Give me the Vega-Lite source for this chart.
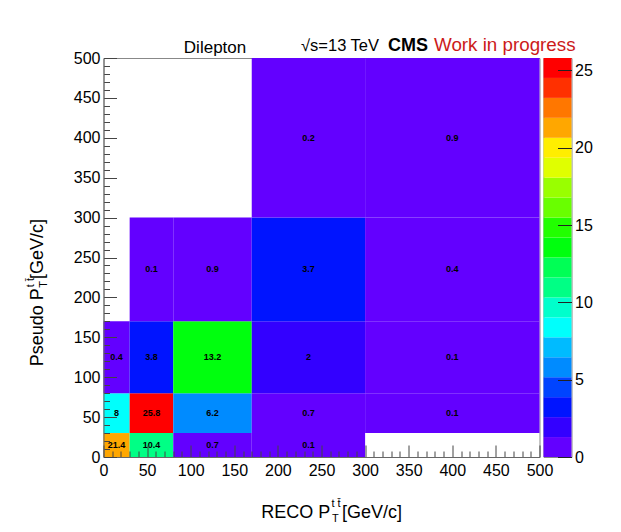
{
  "$schema": "https://vega.github.io/schema/vega-lite/v6.json",
  "background": "white",
  "padding": {"left": 24.5, "top": 35, "right": 5, "bottom": 5},
  "bounds": "flush",
  "spacing": 4,
  "config": {
    "font": "Liberation Sans",
    "view": {"stroke": "#888", "strokeWidth": 1},
    "axis": {
      "grid": false,
      "labelFont": "Liberation Sans",
      "labelFontSize": 16,
      "labelColor": "#000",
      "domainColor": "#666",
      "tickColor": "#444",
      "tickWidth": 1
    }
  },
  "hconcat": [
    {
      "width": 436,
      "height": 399,
      "data": {
        "values": [
          {"x0": 0, "x1": 30, "y0": 0, "y1": 30, "value": 21.4},
          {"x0": 30, "x1": 80, "y0": 0, "y1": 30, "value": 10.4},
          {"x0": 80, "x1": 170, "y0": 0, "y1": 30, "value": 0.7},
          {"x0": 170, "x1": 300, "y0": 0, "y1": 30, "value": 0.1},
          {"x0": 0, "x1": 30, "y0": 30, "y1": 80, "value": 8},
          {"x0": 30, "x1": 80, "y0": 30, "y1": 80, "value": 25.8},
          {"x0": 80, "x1": 170, "y0": 30, "y1": 80, "value": 6.2},
          {"x0": 170, "x1": 300, "y0": 30, "y1": 80, "value": 0.7},
          {"x0": 300, "x1": 500, "y0": 30, "y1": 80, "value": 0.1},
          {"x0": 0, "x1": 30, "y0": 80, "y1": 170, "value": 0.4},
          {"x0": 30, "x1": 80, "y0": 80, "y1": 170, "value": 3.8},
          {"x0": 80, "x1": 170, "y0": 80, "y1": 170, "value": 13.2},
          {"x0": 170, "x1": 300, "y0": 80, "y1": 170, "value": 2},
          {"x0": 300, "x1": 500, "y0": 80, "y1": 170, "value": 0.1},
          {"x0": 30, "x1": 80, "y0": 170, "y1": 300, "value": 0.1},
          {"x0": 80, "x1": 170, "y0": 170, "y1": 300, "value": 0.9},
          {"x0": 170, "x1": 300, "y0": 170, "y1": 300, "value": 3.7},
          {"x0": 300, "x1": 500, "y0": 170, "y1": 300, "value": 0.4},
          {"x0": 170, "x1": 300, "y0": 300, "y1": 500, "value": 0.2},
          {"x0": 300, "x1": 500, "y0": 300, "y1": 500, "value": 0.9}
        ]
      },
      "resolve": {"axis": {"x": "independent", "y": "independent"}},
      "layer": [
        {
          "mark": {"type": "rect"},
          "encoding": {
            "x": {
              "field": "x0", "type": "quantitative",
              "scale": {"domain": [0, 500], "nice": false, "zero": false},
              "axis": {
                "title": null,
                "zindex": 2,
                "values": [0,10,20,30,40,50,60,70,80,90,100,110,120,130,140,150,160,170,180,190,200,210,220,230,240,250,260,270,280,290,300,310,320,330,340,350,360,370,380,390,400,410,420,430,440,450,460,470,480,490,500],
                "tickSize": {"condition": {"test": "datum.value % 50 === 0", "value": -12}, "value": -6},
                "labelPadding": 17,
                "labelExpr": "datum.value % 50 === 0 ? datum.label : ''",
                "labelOverlap": false,
                "labelFlush": false
              }
            },
            "x2": {"field": "x1"},
            "y": {
              "field": "y0", "type": "quantitative",
              "scale": {"domain": [0, 500], "nice": false, "zero": false},
              "axis": {
                "title": null,
                "zindex": 2,
                "values": [0,10,20,30,40,50,60,70,80,90,100,110,120,130,140,150,160,170,180,190,200,210,220,230,240,250,260,270,280,290,300,310,320,330,340,350,360,370,380,390,400,410,420,430,440,450,460,470,480,490,500],
                "tickSize": {"condition": {"test": "datum.value % 50 === 0", "value": -13}, "value": -6},
                "labelPadding": 16.5,
                "labelExpr": "datum.value % 50 === 0 ? datum.label : ''",
                "labelOverlap": false
              }
            },
            "y2": {"field": "y1"},
            "color": {
              "field": "value", "type": "quantitative",
              "scale": {
                "type": "threshold",
                "domain": [1.29, 2.58, 3.87, 5.16, 6.45, 7.74, 9.03, 10.32, 11.61, 12.9, 14.19, 15.48, 16.77, 18.06, 19.35, 20.64, 21.93, 23.22, 24.51],
                "range": ["#6300ff", "#3300ff", "#0014ff", "#0044ff", "#008bff", "#00bbff", "#00fffc", "#00ffcc", "#00ff85", "#00ff55", "#00ff0e", "#22ff00", "#69ff00", "#99ff00", "#e0ff00", "#ffee00", "#ffa700", "#ff7700", "#ff3000", "#ff0000"]
              },
              "legend": null
            }
          }
        },
        {
          "transform": [
            {"calculate": "(datum.x0 + datum.x1) / 2", "as": "xm"},
            {"calculate": "(datum.y0 + datum.y1) / 2", "as": "ym"}
          ],
          "mark": {"type": "text", "font": "Liberation Sans", "fontSize": 9, "fontWeight": "bold", "color": "#000", "clip": false},
          "encoding": {
            "x": {"field": "xm", "type": "quantitative", "axis": null},
            "y": {"field": "ym", "type": "quantitative", "axis": null},
            "text": {"field": "value", "type": "quantitative"}
          }
        },
        {
          "data": {"values": [{}]},
          "mark": {"type": "text", "text": "Dilepton", "fontSize": 17, "align": "center", "baseline": "alphabetic", "color": "#000", "clip": false},
          "encoding": {
            "x": {"datum": 127.9, "type": "quantitative", "axis": null},
            "y": {"datum": 506.6, "type": "quantitative", "axis": null}
          }
        },
        {
          "data": {"values": [{}]},
          "mark": {"type": "text", "text": "√s=13 TeV", "fontSize": 16.5, "align": "left", "baseline": "alphabetic", "color": "#000", "clip": false},
          "encoding": {
            "x": {"datum": 226.5, "type": "quantitative", "axis": null},
            "y": {"datum": 509.1, "type": "quantitative", "axis": null}
          }
        },
        {
          "data": {"values": [{}]},
          "mark": {"type": "text", "text": "CMS", "fontSize": 18, "fontWeight": "bold", "align": "left", "baseline": "alphabetic", "color": "#000", "clip": false},
          "encoding": {
            "x": {"datum": 326.3, "type": "quantitative", "axis": null},
            "y": {"datum": 509.1, "type": "quantitative", "axis": null}
          }
        },
        {
          "data": {"values": [{}]},
          "mark": {"type": "text", "text": "Work in progress", "fontSize": 18.8, "align": "left", "baseline": "alphabetic", "color": "#cc1a1a", "clip": false},
          "encoding": {
            "x": {"datum": 379.0, "type": "quantitative", "axis": null},
            "y": {"datum": 509.1, "type": "quantitative", "axis": null}
          }
        },
        {
          "data": {"values": [{}]},
          "mark": {"type": "text", "text": "RECO P", "fontSize": 18, "align": "right", "baseline": "alphabetic", "color": "#000", "clip": false},
          "encoding": {
            "x": {"datum": 260.1, "type": "quantitative", "axis": null},
            "y": {"datum": -76.7, "type": "quantitative", "axis": null}
          }
        },
        {
          "data": {"values": [{}]},
          "mark": {"type": "text", "text": "t t\u0304", "fontSize": 11, "align": "left", "baseline": "alphabetic", "color": "#000", "clip": false},
          "encoding": {
            "x": {"datum": 261.4, "type": "quantitative", "axis": null},
            "y": {"datum": -62.7, "type": "quantitative", "axis": null}
          }
        },
        {
          "data": {"values": [{}]},
          "mark": {"type": "text", "text": "T", "fontSize": 11, "align": "left", "baseline": "alphabetic", "color": "#000", "clip": false},
          "encoding": {
            "x": {"datum": 261.9, "type": "quantitative", "axis": null},
            "y": {"datum": -81.2, "type": "quantitative", "axis": null}
          }
        },
        {
          "data": {"values": [{}]},
          "mark": {"type": "text", "text": " [GeV/c]", "fontSize": 18, "align": "left", "baseline": "alphabetic", "color": "#000", "clip": false},
          "encoding": {
            "x": {"datum": 273.5, "type": "quantitative", "axis": null},
            "y": {"datum": -76.7, "type": "quantitative", "axis": null}
          }
        },
        {
          "data": {"values": [{}]},
          "mark": {"type": "text", "text": "Pseudo P", "angle": 270, "fontSize": 18, "align": "right", "baseline": "alphabetic", "color": "#000", "clip": false},
          "encoding": {
            "x": {"datum": -69.4, "type": "quantitative", "axis": null},
            "y": {"datum": 211.5, "type": "quantitative", "axis": null}
          }
        },
        {
          "data": {"values": [{}]},
          "mark": {"type": "text", "text": "t t\u0304", "angle": 270, "fontSize": 11, "align": "left", "baseline": "alphabetic", "color": "#000", "clip": false},
          "encoding": {
            "x": {"datum": -79.7, "type": "quantitative", "axis": null},
            "y": {"datum": 212.8, "type": "quantitative", "axis": null}
          }
        },
        {
          "data": {"values": [{}]},
          "mark": {"type": "text", "text": "T", "angle": 270, "fontSize": 11, "align": "left", "baseline": "alphabetic", "color": "#000", "clip": false},
          "encoding": {
            "x": {"datum": -64.8, "type": "quantitative", "axis": null},
            "y": {"datum": 212.2, "type": "quantitative", "axis": null}
          }
        },
        {
          "data": {"values": [{}]},
          "mark": {"type": "text", "text": " [GeV/c]", "angle": 270, "fontSize": 18, "align": "left", "baseline": "alphabetic", "color": "#000", "clip": false},
          "encoding": {
            "x": {"datum": -69.4, "type": "quantitative", "axis": null},
            "y": {"datum": 223.0, "type": "quantitative", "axis": null}
          }
        }
      ]
    },
    {
      "width": 28,
      "height": 399,
      "data": {
        "values": [
          {"z0": 0, "z1": 1.29},
          {"z0": 1.29, "z1": 2.58},
          {"z0": 2.58, "z1": 3.87},
          {"z0": 3.87, "z1": 5.16},
          {"z0": 5.16, "z1": 6.45},
          {"z0": 6.45, "z1": 7.74},
          {"z0": 7.74, "z1": 9.03},
          {"z0": 9.03, "z1": 10.32},
          {"z0": 10.32, "z1": 11.61},
          {"z0": 11.61, "z1": 12.9},
          {"z0": 12.9, "z1": 14.19},
          {"z0": 14.19, "z1": 15.48},
          {"z0": 15.48, "z1": 16.77},
          {"z0": 16.77, "z1": 18.06},
          {"z0": 18.06, "z1": 19.35},
          {"z0": 19.35, "z1": 20.64},
          {"z0": 20.64, "z1": 21.93},
          {"z0": 21.93, "z1": 23.22},
          {"z0": 23.22, "z1": 24.51},
          {"z0": 24.51, "z1": 25.8}
        ]
      },
      "mark": {"type": "rect"},
      "encoding": {
        "x": {"datum": 0, "type": "quantitative", "scale": {"domain": [0, 1], "nice": false}, "axis": null},
        "x2": {"datum": 1},
        "y": {
          "field": "z0", "type": "quantitative",
          "scale": {"domain": [0, 25.8], "nice": false, "zero": false},
          "axis": {
            "orient": "right",
            "title": null,
            "zindex": 2,
            "values": [0, 5, 10, 15, 20, 25],
            "domain": false,
            "tickSize": -14,
            "tickColor": "#222",
            "labelPadding": 17
          }
        },
        "y2": {"field": "z1"},
        "color": {
          "field": "z0", "type": "quantitative",
          "scale": {
            "type": "threshold",
            "domain": [1.29, 2.58, 3.87, 5.16, 6.45, 7.74, 9.03, 10.32, 11.61, 12.9, 14.19, 15.48, 16.77, 18.06, 19.35, 20.64, 21.93, 23.22, 24.51],
            "range": ["#6300ff", "#3300ff", "#0014ff", "#0044ff", "#008bff", "#00bbff", "#00fffc", "#00ffcc", "#00ff85", "#00ff55", "#00ff0e", "#22ff00", "#69ff00", "#99ff00", "#e0ff00", "#ffee00", "#ffa700", "#ff7700", "#ff3000", "#ff0000"]
          },
          "legend": null
        }
      }
    }
  ]
}
